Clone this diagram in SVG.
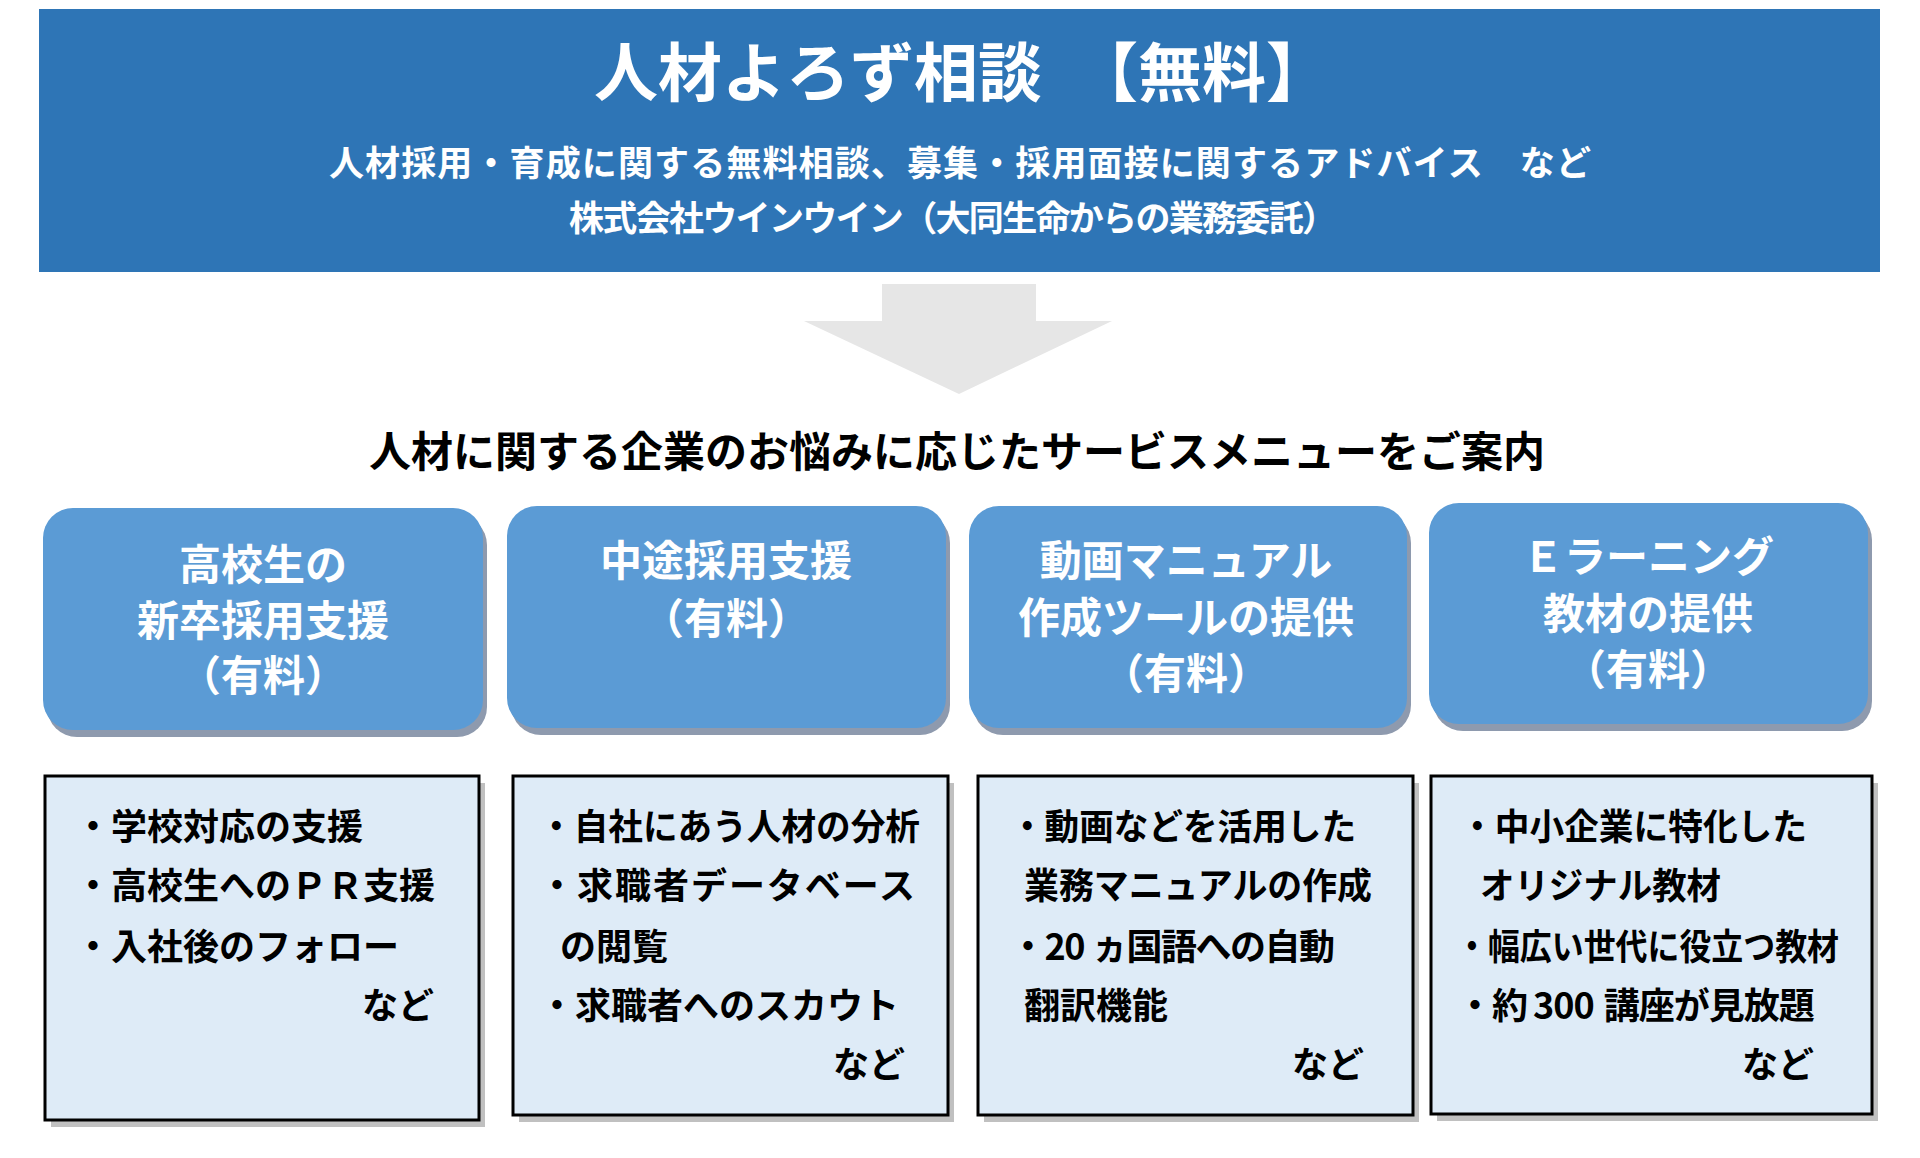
<svg xmlns="http://www.w3.org/2000/svg" width="1920" height="1158" viewBox="0 0 1920 1158">
<style>
text{font-family:"Noto Sans CJK JP","Noto Sans",sans-serif;font-weight:700}
.w{fill:#fff}
.hd{font-size:42px;fill:#fff;text-anchor:middle}
.it{font-size:36px;fill:#000}
.card{fill:#5B9BD5}
.cshadow{fill:#8E9AAE}
.list{fill:#DEEBF7;stroke:#000;stroke-width:3}
.lshadow{fill:#C0C0C0}
</style>
<rect width="1920" height="1158" fill="#fff"/>
<g id="banner">
<rect x="39" y="9" width="1841" height="263" fill="#2E75B6"/>
<text x="594" y="96" font-size="64" class="w">人材よろず相談　【無料】</text>
<text x="329" y="176" font-size="35" class="w" textLength="1262">人材採用・育成に関する無料相談、募集・採用面接に関するアドバイス　など</text>
<text x="953" y="231" font-size="35" class="w" text-anchor="middle" textLength="768">株式会社ウインウイン（大同生命からの業務委託）</text>
</g>
<g id="connectors">
<polygon points="882,284 1036,284 1036,321 1112,321 959,394 804,321 882,321" fill="#E6E6E6"/>
</g>
<g id="subtitle">
<text x="369" y="467" font-size="42" textLength="1176">人材に関する企業のお悩みに応じたサービスメニューをご案内</text>
</g>
<g id="card1">
<rect class="cshadow" x="47" y="515" width="440" height="222" rx="30"/>
<rect class="card" x="43" y="508" width="440" height="222" rx="30"/>
<text class="hd" x="263" y="580">高校生の</text>
<text class="hd" x="263" y="636">新卒採用支援</text>
<text class="hd" x="263" y="691">（有料）</text>
</g>
<g id="card2">
<rect class="cshadow" x="511" y="513" width="439" height="222" rx="30"/>
<rect class="card" x="507" y="506" width="439" height="222" rx="30"/>
<text class="hd" x="726" y="576">中途採用支援</text>
<text class="hd" x="726" y="634">（有料）</text>
</g>
<g id="card3">
<rect class="cshadow" x="973" y="513" width="438" height="222" rx="30"/>
<rect class="card" x="969" y="506" width="438" height="222" rx="30"/>
<text class="hd" x="1186" y="576">動画マニュアル</text>
<text class="hd" x="1186" y="633">作成ツールの提供</text>
<text class="hd" x="1186" y="689">（有料）</text>
</g>
<g id="card4">
<rect class="cshadow" x="1433" y="510" width="439" height="221" rx="30"/>
<rect class="card" x="1429" y="503" width="439" height="221" rx="30"/>
<text class="hd" x="1648" y="572">Ｅラーニング</text>
<text class="hd" x="1648" y="629">教材の提供</text>
<text class="hd" x="1648" y="685">（有料）</text>
</g>
<g id="list1">
<rect class="lshadow" x="51" y="783" width="434" height="344"/>
<rect class="list" x="45" y="776" width="434" height="344"/>
<text class="it" x="75" y="840">・学校対応の支援</text>
<text class="it" x="75" y="899">・高校生へのＰＲ支援</text>
<text class="it" x="75" y="960">・入社後のフォロー</text>
<text class="it" x="434" y="1019" text-anchor="end">など</text>
</g>
<g id="list2">
<rect class="lshadow" x="519" y="783" width="435" height="339"/>
<rect class="list" x="513" y="776" width="435" height="339"/>
<text class="it" x="539" y="840" textLength="381" lengthAdjust="spacingAndGlyphs">・自社にあう人材の分析</text>
<text class="it" x="539" y="899" textLength="376">・求職者データベース</text>
<text class="it" x="560" y="960">の閲覧</text>
<text class="it" x="539" y="1019">・求職者へのスカウト</text>
<text class="it" x="905" y="1078" text-anchor="end">など</text>
</g>
<g id="list3">
<rect class="lshadow" x="984" y="783" width="435" height="339"/>
<rect class="list" x="978" y="776" width="435" height="339"/>
<text class="it" x="1010" y="840" textLength="346" lengthAdjust="spacingAndGlyphs">・動画などを活用した</text>
<text class="it" x="1024" y="899" textLength="348" lengthAdjust="spacingAndGlyphs">業務マニュアルの作成</text>
<text class="it" x="1010" y="960" letter-spacing="-1.5">・20<tspan dx="8">ヵ国語への自動</tspan></text>
<text class="it" x="1024" y="1019">翻訳機能</text>
<text class="it" x="1364" y="1078" text-anchor="end">など</text>
</g>
<g id="list4">
<rect class="lshadow" x="1437" y="783" width="441" height="338"/>
<rect class="list" x="1431" y="776" width="441" height="338"/>
<text class="it" x="1460" y="840" textLength="347" lengthAdjust="spacingAndGlyphs">・中小企業に特化した</text>
<text class="it" x="1480" y="899" textLength="241" lengthAdjust="spacingAndGlyphs">オリジナル教材</text>
<text class="it" x="1456" y="960" textLength="383" lengthAdjust="spacingAndGlyphs">・幅広い世代に役立つ教材</text>
<text class="it" x="1457" y="1019" letter-spacing="-1">・約<tspan dx="6">300</tspan><tspan dx="10">講座が見放題</tspan></text>
<text class="it" x="1814" y="1078" text-anchor="end">など</text>
</g>
</svg>
